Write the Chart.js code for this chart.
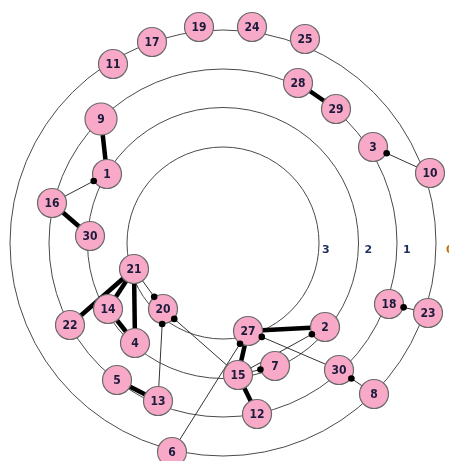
<!DOCTYPE html>
<html>
<head>
<meta charset="utf-8">
<script src="https://cdn.jsdelivr.net/npm/chart.js@4/dist/chart.umd.min.js"></script>
<style>
html,body{margin:0;padding:0;background:#fff;}
#c{display:block;}
</style>
</head>
<body>
<canvas id="c" width="449" height="461"></canvas>
<script>
// ---- data (chart units: centre of the rings = 0,0; y up) ----
const nodeLabels = ['19','24','25','17','11','28','29','9','3','10','1','16','30','21','14','20','22','4','27','2','18','23','7','15','30','8','5','13','12','6'];
const nodeX = [-24, 29, 82, -71, -110, 75, 113, -122, 150, 207, -116, -171, -133, -89, -115, -60, -153, -88, 25, 102, 166, 205, 52, 15, 116, 151, -106, -65, 34, -51];
const nodeY = [216, 216, 204, 201, 179, 160, 134, 124, 96, 70, 69, 40, 7, -26, -66, -66, -82, -100, -88, -84, -61, -70, -123, -132, -127, -151, -137, -158, -171, -209];

// rings: level labels and their radii in chart units
const ringLabels = ['0', '1', '2', '3'];
const ringRadii = [213, 174, 135.5, 96];

// edges (indices into the node arrays)
const edgeFrom  = [7, 11, 11, 5, 9, 13, 13, 13, 14, 13, 27, 23, 18, 18, 23, 23, 24, 29, 25, 21, 26, 23];
const edgeTo    = [10, 10, 12, 6, 8, 16, 14, 17, 17, 15, 15, 15, 19, 23, 28, 22, 18, 18, 24, 20, 27, 19];
const edgeHeavy = [1, 0, 1, 1, 0, 1, 1, 1, 1, 0, 0, 0, 1, 1, 1, 0, 0, 0, 0, 0, 1, 0];
const edgeDot   = [0, 1, 0, 0, 1, 0, 0, 0, 0, 1, 1, 1, 0, 0, 0, 1, 1, 1, 1, 1, 0, 1];

const NODE_R = 14.5;
function nodeRadius(i){ return nodeLabels[i] === '9' ? 16 : NODE_R; }
const ringLabelGap = [10, 6, 6, 3];

const datasets = [];
datasets.push({
  label: 'nodes',
  data: nodeLabels.map((l, i) => ({x: nodeX[i], y: nodeY[i]})),
  backgroundColor: '#F9A9C8',
  borderColor: '#6a6a6a',
  borderWidth: 1.2,
  pointRadius: ctx => nodeRadius(ctx.dataIndex),
  pointHoverRadius: ctx => nodeRadius(ctx.dataIndex),
  showLine: false,
  clip: false,
  order: 0
});
for (let k = 0; k < edgeFrom.length; k++) {
  const a = edgeFrom[k], b = edgeTo[k];
  datasets.push({
    label: 'edge' + k,
    data: [{x: nodeX[a], y: nodeY[a]}, {x: nodeX[b], y: nodeY[b]}],
    showLine: true,
    borderColor: edgeHeavy[k] ? '#000' : '#333',
    borderWidth: edgeHeavy[k] ? 4.5 : 1,
    pointRadius: 0,
    pointHoverRadius: 0,
    clip: false,
    order: 5
  });
}

const ringPlugin = {
  id: 'rings',
  beforeDatasetsDraw(chart) {
    const xs = chart.scales.x, ys = chart.scales.y, ctx = chart.ctx;
    const cx = xs.getPixelForValue(0), cy = ys.getPixelForValue(0);
    ctx.save();
    ctx.strokeStyle = '#4a4a4a';
    ctx.lineWidth = 1;
    ringRadii.forEach(r => {
      const rp = xs.getPixelForValue(r) - cx;
      ctx.beginPath();
      ctx.arc(cx, cy, rp, 0, Math.PI * 2);
      ctx.stroke();
    });
    ctx.font = 'bold 11px "DejaVu Sans", sans-serif';
    ctx.textBaseline = 'middle';
    ctx.textAlign = 'left';
    ringRadii.forEach((r, i) => {
      const rp = xs.getPixelForValue(r);
      ctx.fillStyle = ringLabels[i] === '0' ? '#c07000' : '#1f2d5c';
      ctx.fillText(ringLabels[i], rp + ringLabelGap[i], ys.getPixelForValue(-7));
    });
    ctx.restore();
  },
  afterDatasetsDraw(chart) {
    const xs = chart.scales.x, ys = chart.scales.y, ctx = chart.ctx;
    ctx.save();
    ctx.fillStyle = '#000';
    for (let k = 0; k < edgeFrom.length; k++) {
      if (!edgeDot[k]) continue;
      const a = edgeFrom[k], b = edgeTo[k];
      const ax = xs.getPixelForValue(nodeX[a]), ay = ys.getPixelForValue(nodeY[a]);
      const bx = xs.getPixelForValue(nodeX[b]), by = ys.getPixelForValue(nodeY[b]);
      const d = Math.hypot(ax - bx, ay - by);
      const off = nodeRadius(b) + 0.5;
      const px = bx + (ax - bx) / d * off, py = by + (ay - by) / d * off;
      ctx.beginPath();
      ctx.arc(px, py, 3.3, 0, Math.PI * 2);
      ctx.fill();
    }
    ctx.font = 'bold 12px "DejaVu Sans Condensed", "DejaVu Sans", sans-serif';
    ctx.textAlign = 'center';
    ctx.textBaseline = 'middle';
    ctx.fillStyle = '#1b1b3c';
    nodeLabels.forEach((l, i) => {
      ctx.fillText(l, xs.getPixelForValue(nodeX[i]), ys.getPixelForValue(nodeY[i]) + 0.5);
    });
    ctx.restore();
  }
};

new Chart(document.getElementById('c'), {
  type: 'scatter',
  data: { datasets },
  options: {
    responsive: false,
    animation: false,
    events: [],
    layout: { padding: 0, autoPadding: false },
    plugins: { legend: { display: false }, tooltip: { enabled: false } },
    scales: {
      x: { type: 'linear', min: -223, max: 226, display: false },
      y: { type: 'linear', min: -218, max: 243, display: false }
    }
  },
  plugins: [ringPlugin]
});
</script>
</body>
</html>
